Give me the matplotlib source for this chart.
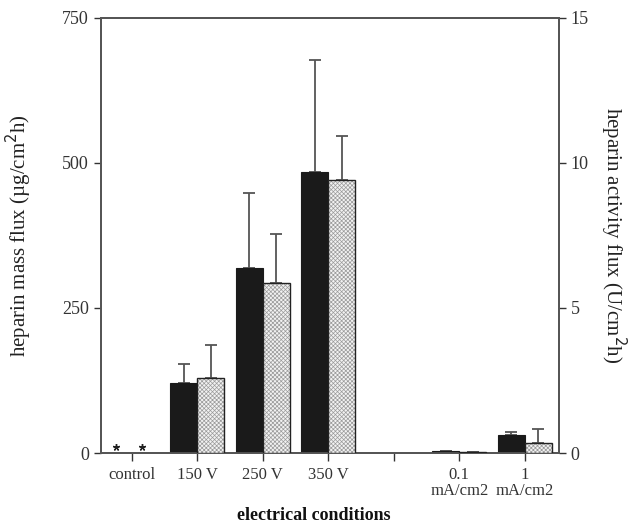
import numpy as np
import matplotlib
matplotlib.use('Agg')
from matplotlib import pyplot as plt

plt.rcParams['font.family'] = ['Liberation Serif', 'DejaVu Serif']
plt.rcParams['hatch.linewidth'] = 0.5

# data
tick_labels = ['control', '150 V', '250 V', '350 V', '', '0.1\nmA/cm2', '1\nmA/cm2']
bar_pos = [1, 2, 3, 5, 6]
mass_flux = [121, 319, 484, 4, 31]          # ug/cm2h, left axis
mass_err = [32, 129, 194, 0, 5]
activity_flux = [2.58, 5.86, 9.42, 0.02, 0.34]  # U/cm2h, right axis
activity_err = [1.14, 1.70, 1.52, 0, 0.48]
control_pos = 0

w = 0.41
x = np.array(bar_pos)

fig = plt.figure(figsize=(6.38, 5.28), dpi=100)
ax = fig.add_axes([0.158, 0.142, 0.718, 0.824])
ax2 = ax.twinx()

ax.bar(x - w/2, mass_flux, w, color='#1a1a1a', edgecolor='#1a1a1a', lw=0.8, zorder=3)
ax.errorbar(x - w/2, mass_flux, yerr=[np.zeros(len(x)), mass_err], fmt='none',
            ecolor='#555555', elinewidth=1.3, capsize=4, capthick=1.3, zorder=2)

ax2.bar(x + w/2, activity_flux, w, color='#f2f2f2', edgecolor='#9a9a9a', hatch='xxxxxxxx', lw=0, zorder=3)
ax2.bar(x + w/2, activity_flux, w, color='none', edgecolor='#222222', lw=1.0, zorder=4)
ax2.errorbar(x + w/2, activity_flux, yerr=[np.zeros(len(x)), activity_err], fmt='none',
             ecolor='#555555', elinewidth=1.3, capsize=4, capthick=1.3, zorder=2)

# control: no detectable flux
ax.plot([control_pos - 0.24, control_pos + 0.16], [10, 10], ls='none', marker=(5, 2, 0),
        ms=5, color='#222222', mew=1.0)

ax.set_xlim(-0.47, 6.52)
ax.set_ylim(0, 750)
ax2.set_ylim(0, 15)
ax.set_xticks(range(7))
ax.set_xticklabels(tick_labels, fontsize=12, linespacing=1.0)
ax.set_yticks([0, 250, 500, 750])
ax2.set_yticks([0, 5, 10, 15])
for a in (ax, ax2):
    a.tick_params(labelsize=13, length=5, width=1, colors='#333333')
    for s in a.spines.values():
        s.set_color('#555555')
        s.set_linewidth(1.3)
ax.tick_params(axis='x', length=6, pad=4, labelsize=12)

ax.set_ylabel('heparin mass flux (\u00b5g/cm$^2$h)', fontsize=15, labelpad=20, color='#222222')
ax2.set_ylabel('heparin activity flux (U/cm$^2$h)', fontsize=15, rotation=-90, labelpad=28, color='#222222')
fig.text(0.492, 0.024, 'electrical conditions', fontsize=13, fontweight='bold',
         ha='center', va='center', color='#111111')

fig.savefig('out.png', dpi=100)
